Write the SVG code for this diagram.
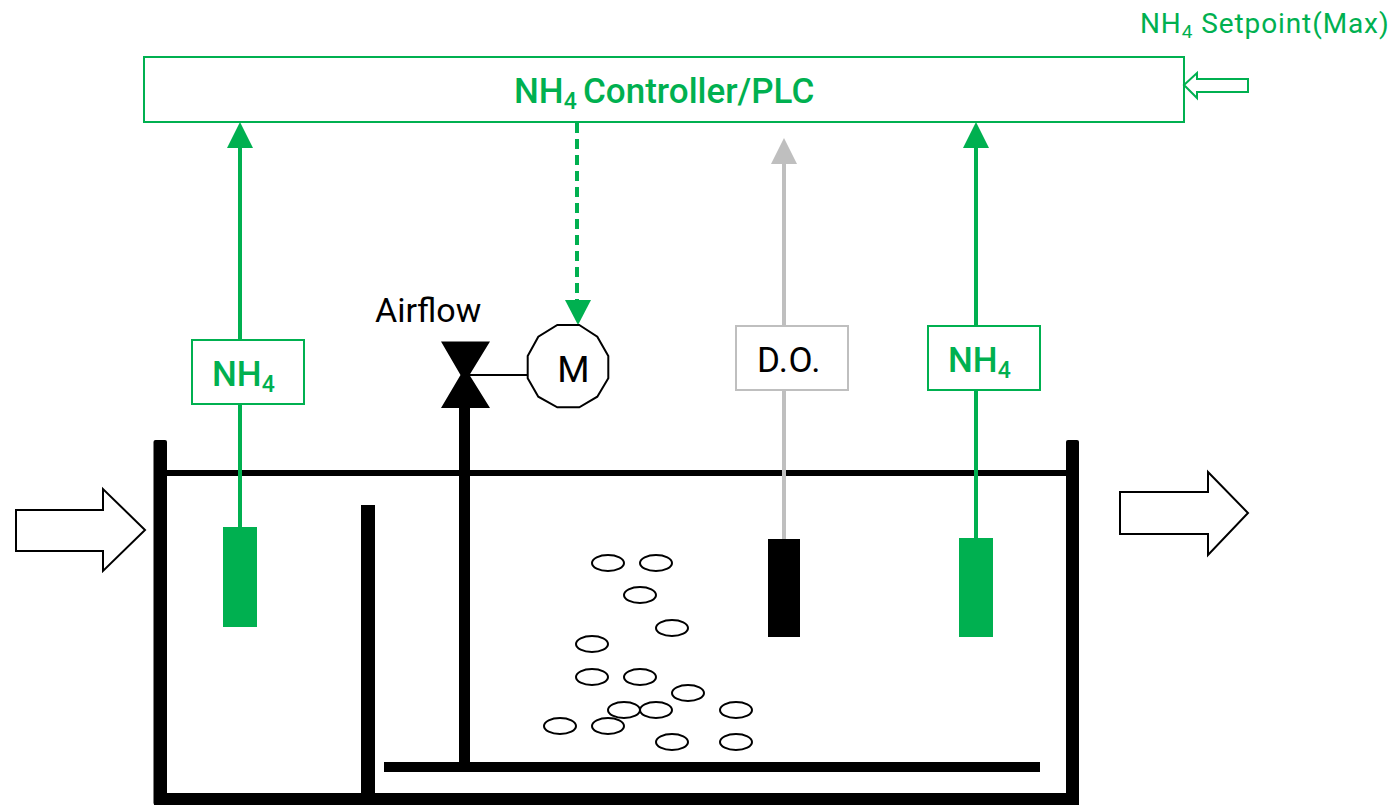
<svg xmlns="http://www.w3.org/2000/svg" width="1399" height="805" viewBox="0 0 1399 805">
<style>
text{font-family:"Roboto","Liberation Sans",sans-serif}
.g{fill:#00b050}.k{fill:#000}
.lb{font-size:35px;fill:#00b050;font-weight:500}
.box{fill:#fff;stroke:#00b050;stroke-width:2}
.gl{stroke:#00b050;stroke-width:4;fill:none}
.wall{fill:#000}
.arrow{fill:#fff;stroke:#000;stroke-width:2}
ellipse{fill:#fff;stroke:#000;stroke-width:2}
</style>
<rect width="1399" height="805" fill="#fff"/>
<g id="tank">
<rect class="wall" x="153.500" y="440" width="13.500" height="365" rx="2"/>
<rect class="wall" x="1066" y="440" width="13" height="365" rx="2"/>
<rect class="wall" x="154" y="793" width="925" height="12"/>
<rect class="wall" x="167" y="470" width="899" height="6"/>
<rect class="wall" x="361" y="505" width="14" height="290"/>
<rect class="wall" x="384" y="762" width="656" height="10"/>
<rect class="wall" x="459" y="400" width="11" height="364"/>
</g>
<g id="connectors">
<line class="gl" x1="240" y1="146" x2="240" y2="528"/>
<polygon class="g" points="240,122 253,148 227,148"/>
<line class="gl" x1="577" y1="123" x2="577" y2="302" stroke-dasharray="10 6"/>
<polygon class="g" points="578,325 565,300 591,300"/>
<line x1="784" y1="162" x2="784" y2="540" stroke="#bfbfbf" stroke-width="4"/>
<polygon points="784,138 797,164 771,164" fill="#bfbfbf"/>
<line class="gl" x1="976" y1="146" x2="976" y2="540"/>
<polygon class="g" points="976,122 989,148 963,148"/>
<line x1="465" y1="375" x2="528" y2="375" stroke="#000" stroke-width="2"/>
</g>
<g id="controller">
<rect class="box" x="144" y="57" width="1040" height="65"/>
<text class="lb" x="514" y="103">NH<tspan font-size="23" dy="6">4</tspan><tspan dy="-6" x="583">Controller/PLC</tspan></text>
</g>
<g id="setpoint">
<text x="1140" y="33" font-size="28" letter-spacing="0.900" fill="#00b050">NH<tspan font-size="19" dy="5">4</tspan><tspan dy="-5"> Setpoint(Max)</tspan></text>
<polygon points="1184,85 1197,73 1197,79 1248,79 1248,92 1197,92 1197,98" fill="#fff" stroke="#00b050" stroke-width="2"/>
</g>
<g id="nh4-left">
<rect class="box" x="192" y="340" width="112" height="64"/>
<text class="lb" x="212" y="386">NH<tspan font-size="23" dy="6">4</tspan></text>
<rect class="g" x="223" y="527" width="34" height="100"/>
</g>
<g id="do">
<rect x="736" y="326" width="112" height="64" fill="#fff" stroke="#bfbfbf" stroke-width="2"/>
<text x="789" y="372" font-size="35" letter-spacing="0.500" fill="#000" text-anchor="middle">D.O.</text>
<rect class="k" x="768" y="539" width="32" height="98"/>
</g>
<g id="nh4-right">
<rect class="box" x="928" y="326" width="112" height="64"/>
<text class="lb" x="948" y="372">NH<tspan font-size="23" dy="6">4</tspan></text>
<rect class="g" x="959" y="538" width="34" height="99"/>
</g>
<g id="valve">
<text x="375" y="322" font-size="34" fill="#000">Airflow</text>
<polygon class="k" points="441,341.500 490,341.500 469.500,375 490,408 441,408 460.500,375"/>
</g>
<g id="motor">
<polygon points="579.300,325 597.300,336.700 608.300,356 608.300,378.300 597.300,396.700 579.300,407.300 557.300,407.300 538.300,396.700 527.700,378.300 527.700,356 538.300,336.700 557.300,325" fill="#fff" stroke="#000" stroke-width="2"/>
<text x="573.500" y="382" font-size="37" fill="#000" text-anchor="middle">M</text>
</g>
<g id="inlet"><polygon class="arrow" points="16,510 103,510 103,489 145,530 103,571 103,551 16,551"/></g>
<g id="outlet"><polygon class="arrow" points="1120,492 1208,492 1208,472 1248,513 1208,555 1208,534 1120,534"/></g>
<g id="bubbles">
<ellipse cx="608" cy="563" rx="16" ry="8"/><ellipse cx="656" cy="563" rx="16" ry="8"/>
<ellipse cx="640" cy="595" rx="16" ry="8"/><ellipse cx="672" cy="628" rx="16" ry="8"/>
<ellipse cx="592" cy="644" rx="16" ry="8"/><ellipse cx="592" cy="677" rx="16" ry="8"/>
<ellipse cx="640" cy="677" rx="16" ry="8"/><ellipse cx="688" cy="693" rx="16" ry="8"/>
<ellipse cx="624" cy="710" rx="16" ry="8"/><ellipse cx="656" cy="710" rx="16" ry="8"/>
<ellipse cx="736" cy="710" rx="16" ry="8"/><ellipse cx="560" cy="726" rx="16" ry="8"/>
<ellipse cx="608" cy="726" rx="16" ry="8"/><ellipse cx="672" cy="742" rx="16" ry="8"/>
<ellipse cx="736" cy="742" rx="16" ry="8"/>
</g>
</svg>
